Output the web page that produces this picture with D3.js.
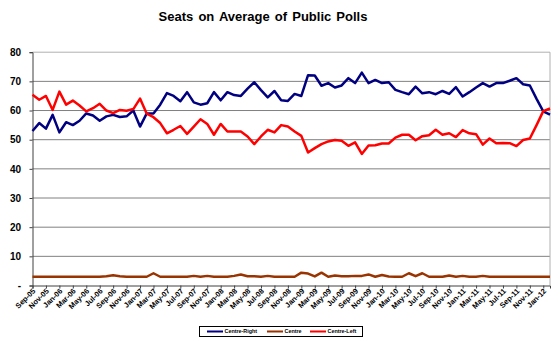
<!DOCTYPE html>
<html><head><meta charset="utf-8">
<script src="https://cdn.jsdelivr.net/npm/d3@7/dist/d3.min.js"></script>
<style>body{margin:0;background:#fff}svg{display:block;font-family:"Liberation Sans",Arial,sans-serif}</style>
</head><body><svg id="c" width="560" height="341"></svg>
<script>
const months = ["Sep-05","Oct-05","Nov-05","Dec-05",
"Jan-06","Feb-06","Mar-06","Apr-06","May-06","Jun-06","Jul-06","Aug-06","Sep-06","Oct-06","Nov-06","Dec-06",
"Jan-07","Feb-07","Mar-07","Apr-07","May-07","Jun-07","Jul-07","Aug-07","Sep-07","Oct-07","Nov-07","Dec-07",
"Jan-08","Feb-08","Mar-08","Apr-08","May-08","Jun-08","Jul-08","Aug-08","Sep-08","Oct-08","Nov-08","Dec-08",
"Jan-09","Feb-09","Mar-09","Apr-09","May-09","Jun-09","Jul-09","Aug-09","Sep-09","Oct-09","Nov-09","Dec-09",
"Jan-10","Feb-10","Mar-10","Apr-10","May-10","Jun-10","Jul-10","Aug-10","Sep-10","Oct-10","Nov-10","Dec-10",
"Jan-11","Feb-11","Mar-11","Apr-11","May-11","Jun-11","Jul-11","Aug-11","Sep-11","Oct-11","Nov-11","Dec-11",
"Jan-12","Feb-12"];
const tickLabels = ["Sep-05","Nov-05","Jan-06","Mar-06","May-06","Jul-06","Sep-06","Nov-06","Jan-07","Mar-07",
"May-07","Jul-07","Sep-07","Nov-07","Jan-08","Mar-08","May-08","Jul-08","Sep-08","Nov-08","Jan-09","Mar-09",
"May-09","Jul-09","Sep-09","Nov-09","Jan-10","Mar-10","May-10","Jul-10","Sep-10","Nov-10","Jan-11","Mar-11",
"May-11","Jul-11","Sep-11","Nov-11","Jan-12"];
const yTicks = [0,10,20,30,40,50,60,70,80];
const seriesNames = ["Centre-Right","Centre","Centre-Left"];
const centreRight = [53.0,55.7,53.8,58.5,52.5,56.0,55.0,56.5,59.0,58.3,
56.5,58.0,58.5,57.8,58.0,60.0,54.5,59.0,59.0,62.0,
66.0,65.0,63.2,66.3,62.8,62.0,62.5,66.3,63.5,66.3,
65.3,65.0,67.5,69.7,67.0,64.5,66.7,63.5,63.3,65.7,
65.0,72.1,72.0,68.5,69.4,67.9,68.6,71.1,69.4,73.0,
69.4,70.5,69.4,69.7,67.1,66.3,65.6,68.2,65.9,66.3,
65.6,66.7,65.7,68.0,64.8,66.3,67.9,69.4,68.2,69.4,
69.4,70.2,71.1,69.0,68.6,64.0,59.7,58.6];
const centre = [3.0,3.0,3.0,3.0,3.0,3.0,3.0,3.0,3.0,3.0,
3.0,3.2,3.5,3.2,3.0,3.0,3.0,3.0,4.2,3.0,
3.0,3.0,3.0,3.0,3.3,3.0,3.3,3.0,3.0,3.0,
3.3,3.8,3.2,3.2,3.0,3.3,3.0,3.0,3.0,3.0,
4.4,4.1,3.1,4.4,3.0,3.4,3.2,3.2,3.3,3.3,
3.8,3.0,3.6,3.1,3.0,3.0,4.2,3.2,4.2,3.0,
3.0,3.0,3.4,3.0,3.3,3.0,3.0,3.3,3.0,3.0,
3.0,3.0,3.0,3.0,3.0,3.0,3.0,3.0];
const centreLeft = [65.4,63.7,65.0,60.2,66.5,62.0,63.4,61.7,59.7,60.8,
62.3,60.0,59.1,60.2,59.9,60.5,64.1,58.9,57.7,55.7,
52.2,53.4,54.7,52.0,54.5,57.0,55.4,51.7,55.4,52.8,
52.8,52.8,51.1,48.5,51.1,53.4,52.5,55.0,54.5,52.8,
51.3,45.6,47.1,48.5,49.4,49.9,49.6,47.9,49.1,45.1,
48.0,48.1,48.7,48.7,50.7,51.7,51.7,49.8,51.2,51.5,
53.4,51.7,52.2,50.9,53.3,52.2,51.9,48.3,50.4,48.8,
48.9,48.8,47.8,49.9,50.4,55.0,59.8,60.7];
const colors = ["#000080","#993300","#ff0000"];

const svg = d3.select("#c");
const L = 32.5, R = 550, T = 52.2, B = 285.5;
const x = d3.scalePoint().domain(months).range([L, R]).padding(0);
const y = d3.scaleLinear().domain([0, 80]).range([B, T]);

// title
svg.append("text").attr("x", 263).attr("y", 20.5).attr("text-anchor","middle")
  .attr("font-size", 13).attr("font-weight","bold").attr("word-spacing","1.5px").text("Seats on Average of Public Polls");

// gridlines
svg.append("g").selectAll("line").data(yTicks.filter(d => d > 0)).join("line")
  .attr("x1", L).attr("x2", R).attr("y1", d => y(d)).attr("y2", d => y(d))
  .attr("stroke", d => d === 80 ? "#b0b0b0" : "#808080").attr("stroke-width", 1);
// right border
svg.append("line").attr("x1", R).attr("x2", R).attr("y1", T).attr("y2", B).attr("stroke", "#b0b0b0");

// y axis
const yAxis = d3.axisLeft(y).tickValues(yTicks).tickSize(3).tickFormat(d => d === 0 ? "-" : d);
const gy = svg.append("g").attr("transform", `translate(${L},0)`).call(yAxis);
gy.select(".domain").attr("stroke", "#404040");
gy.selectAll(".tick line").attr("stroke", "#404040");
gy.selectAll(".tick text").attr("font-size", 10).attr("font-weight","bold").attr("fill","#000")
  .attr("font-family","Liberation Sans, Arial, sans-serif").attr("x", -11.5);

// x axis
const xAxis = d3.axisBottom(x).tickValues(tickLabels).tickSize(3);
const gx = svg.append("g").attr("transform", `translate(0,${B})`).call(xAxis);
gx.select(".domain").attr("stroke", "#404040");
gx.selectAll(".tick line").attr("stroke", "#404040");
gx.selectAll(".tick text").attr("font-size", 7.5).attr("font-weight","bold").attr("fill","#000")
  .attr("font-family","Liberation Sans, Arial, sans-serif")
  .attr("text-anchor","end").attr("dy", 0).attr("y", 0)
  .attr("transform", "translate(3,6) rotate(-45)");

// lines
const series = [centreRight, centre, centreLeft];
const line = d3.line().x((d, i) => x(months[i])).y(d => y(d));
svg.append("g").selectAll("path").data(series).join("path")
  .attr("d", line).attr("fill","none").attr("stroke", (d, i) => colors[i])
  .attr("stroke-width", 2.5).attr("stroke-linejoin","round");

// legend
const lg = svg.append("g");
lg.append("rect").attr("x", 199.5).attr("y", 326.5).attr("width", 163).attr("height", 10)
  .attr("fill","#fff").attr("stroke","#000").attr("stroke-width", 1);
const lx = [207, 267, 310];
seriesNames.forEach((n, i) => {
  lg.append("line").attr("x1", lx[i]).attr("x2", lx[i] + 16).attr("y1", 331.5).attr("y2", 331.5)
    .attr("stroke", colors[i]).attr("stroke-width", 2);
  lg.append("text").attr("x", lx[i] + 17.5).attr("y", 333.4).attr("font-size", 5.4)
    .attr("font-weight","bold").text(n);
});
</script></body></html>
